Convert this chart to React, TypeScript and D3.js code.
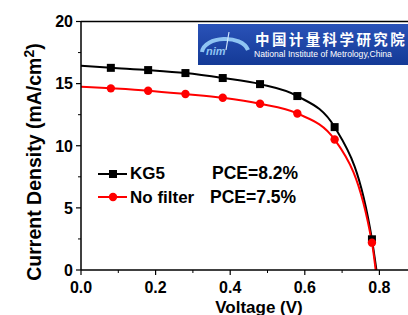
import React from 'react';
import * as d3 from 'd3';

// KG5 filter series
const kg5Volt = [0, 0.08, 0.18, 0.28, 0.38, 0.48, 0.58, 0.68, 0.78, 0.792];
const kg5Curr = [16.43, 16.27, 16.09, 15.85, 15.45, 14.96, 14.0, 11.5, 2.47, 0];
// no filter series
const noVolt = [0, 0.08, 0.18, 0.28, 0.38, 0.48, 0.58, 0.68, 0.78, 0.79];
const noCurr = [14.75, 14.62, 14.43, 14.16, 13.86, 13.38, 12.6, 10.5, 2.2, 0];
// markers exclude the first and last line points
const markerIdx = [1, 2, 3, 4, 5, 6, 7, 8];

const xTicks = [0, 0.2, 0.4, 0.6, 0.8];
const xMinor = [0.1, 0.3, 0.5, 0.7];
const yTicks = [0, 5, 10, 15, 20];
const yMinor = [2.5, 7.5, 12.5, 17.5];

const legendNames = ['KG5', 'No filter'];
const legendPce = ['PCE=8.2%', 'PCE=7.5%'];

const font = '"Liberation Sans", Arial, sans-serif';

const App: React.FC = () => {
  const W = 408;
  const H = 315;
  const left = 81;
  const top = 21.5;
  const bottom = 270;

  const x = d3.scaleLinear().domain([0, 0.9]).range([left, left + 0.9 * 373]);
  const y = d3.scaleLinear().domain([0, 20]).range([bottom, top]);

  const line = d3
    .line<[number, number]>()
    .x((d) => x(d[0]))
    .y((d) => y(d[1]))
    .curve(d3.curveMonotoneX);

  const kg5 = kg5Volt.map((v, i) => [v, kg5Curr[i]] as [number, number]);
  const nof = noVolt.map((v, i) => [v, noCurr[i]] as [number, number]);

  return (
    <svg
      width={W}
      height={H}
      style={{ position: 'absolute', left: 0, top: 0, background: '#fff' }}
      fontFamily={font}
    >
      <defs>
        <clipPath id="plot">
          <rect x={left} y={top - 2} width={W - left} height={bottom - top + 2} />
        </clipPath>
        <linearGradient id="logo" x1="0" y1="0" x2="0" y2="1">
          <stop offset="0" stopColor="#2a52b8" />
          <stop offset="1" stopColor="#143a96" />
        </linearGradient>
      </defs>

      {/* series */}
      <g clipPath="url(#plot)">
        <path d={line(kg5) || ''} fill="none" stroke="#000" strokeWidth={2} />
        <path d={line(nof) || ''} fill="none" stroke="#ff0000" strokeWidth={2} />
        {markerIdx.map((i) => (
          <rect
            key={'k' + i}
            x={x(kg5Volt[i]) - 4}
            y={y(kg5Curr[i]) - 4}
            width={8}
            height={8}
            fill="#000"
          />
        ))}
        {markerIdx.map((i) => (
          <circle key={'r' + i} cx={x(noVolt[i])} cy={y(noCurr[i])} r={4.2} fill="#ff0000" />
        ))}
      </g>

      {/* frame */}
      <line x1={left} x2={W} y1={top} y2={top} stroke="#000" strokeWidth={1.5} />
      <line x1={left} x2={W} y1={bottom} y2={bottom} stroke="#000" strokeWidth={1.5} />
      <line x1={left} x2={left} y1={top} y2={bottom} stroke="#000" strokeWidth={1.5} />

      {/* y axis */}
      {yTicks.map((t) => (
        <g key={'yt' + t}>
          <line x1={left - 5} x2={left} y1={y(t)} y2={y(t)} stroke="#000" strokeWidth={1.2} />
          <text
            x={left - 8}
            y={y(t)}
            dy="0.36em"
            textAnchor="end"
            fontSize={16}
            fontWeight="bold"
          >
            {t}
          </text>
        </g>
      ))}
      {yMinor.map((t) => (
        <line key={'ym' + t} x1={left - 3} x2={left} y1={y(t)} y2={y(t)} stroke="#000" strokeWidth={1} />
      ))}

      {/* x axis */}
      {xTicks.map((t) => (
        <g key={'xt' + t}>
          <line x1={x(t)} x2={x(t)} y1={bottom} y2={bottom + 5} stroke="#000" strokeWidth={1.2} />
          <text x={x(t)} y={293} textAnchor="middle" fontSize={16} fontWeight="bold">
            {t.toFixed(1)}
          </text>
        </g>
      ))}
      {xMinor.map((t) => (
        <line key={'xm' + t} x1={x(t)} x2={x(t)} y1={bottom} y2={bottom + 3} stroke="#000" strokeWidth={1} />
      ))}

      {/* axis titles */}
      <text x={259} y={313} textAnchor="middle" fontSize={17} fontWeight="bold">
        Voltage (V)
      </text>
      <text
        transform="translate(41,162) rotate(-90)"
        textAnchor="middle"
        fontSize={19.5}
        fontWeight="bold"
      >
        Current Density (mA/cm<tspan dy="-7" fontSize={14}>2</tspan>
        <tspan dy="7">)</tspan>
      </text>

      {/* legend */}
      <g>
        <line x1={98} x2={127} y1={174} y2={174} stroke="#000" strokeWidth={2} />
        <rect x={109} y={170} width={8} height={8} fill="#000" />
        <text x={130} y={179} fontSize={17} fontWeight="bold">{legendNames[0]}</text>
        <text x={212} y={179} fontSize={17.5} fontWeight="bold">{legendPce[0]}</text>
        <line x1={98} x2={127} y1={197} y2={197} stroke="#ff0000" strokeWidth={2} />
        <circle cx={113} cy={197} r={4.2} fill="#ff0000" />
        <text x={130} y={203} fontSize={17} fontWeight="bold">{legendNames[1]}</text>
        <text x={210} y={203} fontSize={17.5} fontWeight="bold">{legendPce[1]}</text>
      </g>

      {/* institute logo */}
      <g>
        <rect x={198} y={24} width={W - 198} height={41} fill="url(#logo)" />
        <path
          d="M202,52 C204,36 242,34 248,50"
          fill="none"
          stroke="#8fc4f2"
          strokeWidth={4}
        />
        <text x={206} y={55} fontSize={11} fontWeight="bold" fontStyle="italic" fill="#8fc4f2">
          nim
        </text>
        <line x1={229} x2={226} y1={32} y2={50} stroke="#cfe6fa" strokeWidth={1.2} />
        <text
          x={255}
          y={45}
          fontSize={14.5}
          fill="#fff"
          fontWeight="bold"
          fontFamily='"Noto Sans CJK SC", sans-serif'
          letterSpacing={2.4}
        >
          中国计量科学研究院
        </text>
        <text x={254} y={57} fontSize={8.6} fill="#fff" fontFamily={font}>
          National Institute of Metrology,China
        </text>
      </g>
    </svg>
  );
};

export default App;
